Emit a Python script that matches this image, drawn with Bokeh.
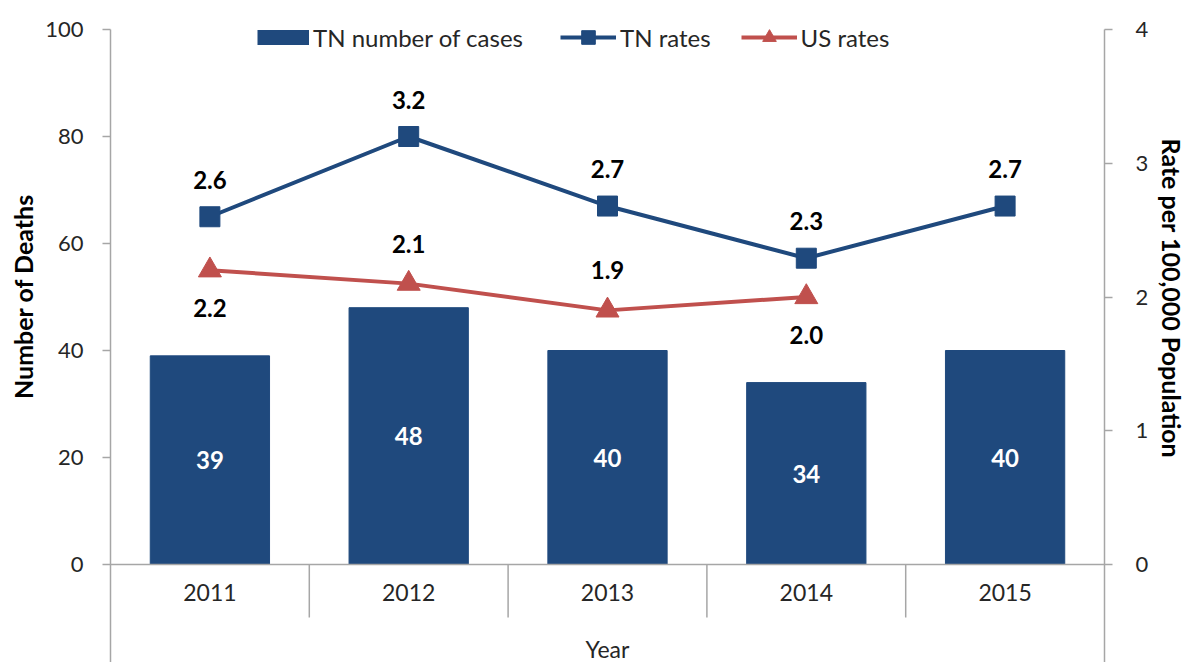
import numpy as np
from bokeh.plotting import figure
from bokeh.models import (Range1d, LinearAxis, FixedTicker, ColumnDataSource, LabelSet,
                          Label, Legend, LegendItem, Span, Title)
from bokeh.core.properties import value
from bokeh.embed import file_html
from bokeh.resources import INLINE

# ---------------- data ----------------
years = ["2011", "2012", "2013", "2014", "2015"]
tn_cases = [39, 48, 40, 34, 40]
tn_rates = [2.6, 3.2, 2.68, 2.29, 2.68]
us_years = ["2011", "2012", "2013", "2014"]
us_rates = [2.2, 2.1, 1.9, 2.0]
us_label_side = ["below", "above", "above", "below"]
left_ticks = [0, 20, 40, 60, 80, 100]
right_ticks = [0, 1, 2, 3, 4]

# ---------------- style / layout ----------------
BLUE = "#1F497D"
RED = "#C0504D"
AXIS = "#A6A6A6"
TEXT = "#262626"
FONT = "Lato"
W, H = 1189, 662
LEFT, RIGHT = 110, 82
MAX_PX, ZERO_PX = 29, 564            # screen rows of the top tick and of zero
PX_PER_UNIT = (ZERO_PX - MAX_PX) / float(left_ticks[-1])
Y_HI = left_ticks[-1] + MAX_PX / PX_PER_UNIT
Y_LO = -(H - ZERO_PX) / PX_PER_UNIT
RATE_SCALE = left_ticks[-1] / float(right_ticks[-1])
AXIS_MID_PX = (MAX_PX + ZERO_PX) / 2.0

idx = list(range(len(years)))
us_idx = [years.index(y) for y in us_years]
X_LO, X_HI = -0.5, len(years) - 0.5

p = figure(width=W, height=H, output_backend="svg", toolbar_location=None,
           x_range=Range1d(X_LO, X_HI), y_range=Range1d(Y_LO, Y_HI),
           x_axis_location=None, min_border_left=LEFT, min_border_right=RIGHT,
           min_border_top=0, min_border_bottom=0)
p.extra_y_ranges = {"rate": Range1d(Y_LO / RATE_SCALE, Y_HI / RATE_SCALE)}
p.xgrid.visible = False
p.ygrid.visible = False
p.outline_line_color = None
p.background_fill_color = "white"
p.border_fill_color = "white"

# axes
ya = p.yaxis[0]
ya.ticker = FixedTicker(ticks=left_ticks)
ya.bounds = (Y_LO, left_ticks[-1])
ra = LinearAxis(y_range_name="rate", ticker=FixedTicker(ticks=right_ticks),
                bounds=(Y_LO / RATE_SCALE, right_ticks[-1]))
p.add_layout(ra, "right")
for ax, st in ((ya, 19), (ra, 23)):
    ax.axis_line_color = AXIS
    ax.axis_line_width = 1.5
    ax.major_tick_line_color = AXIS
    ax.major_tick_line_width = 1.5
    ax.major_tick_out = 8
    ax.major_tick_in = 0
    ax.minor_tick_line_color = None
    ax.major_label_text_font = FONT
    ax.major_label_text_font_size = "22px"
    ax.major_label_text_color = TEXT
    ax.major_label_standoff = st

# axis titles, centred on the 0..max part of each axis
LEFT_TITLE_LEN, RIGHT_TITLE_LEN = 204, 317
p.add_layout(Title(text="Number of Deaths", align="left", vertical_align="top",
                   offset=H - (AXIS_MID_PX + LEFT_TITLE_LEN / 2.0),
                   standoff=6, text_font=FONT, text_font_style="bold",
                   text_font_size="25px", text_color="black"), "left")
p.add_layout(Title(text="Rate per 100,000 Population", align="left", vertical_align="top",
                   offset=AXIS_MID_PX - RIGHT_TITLE_LEN / 2.0,
                   standoff=6, text_font=FONT, text_font_style="bold",
                   text_font_size="25px", text_color="black"), "right")

# bars
bar_src = ColumnDataSource(dict(x=idx, top=tn_cases, mid=[v / 2.0 for v in tn_cases],
                                lab=[str(v) for v in tn_cases]))
bars = p.vbar(x="x", top="top", width=0.6, source=bar_src, fill_color=BLUE, line_color=BLUE)
p.add_layout(LabelSet(x="x", y="mid", text="lab", source=bar_src, text_align="center",
                      text_baseline="middle", text_color="white", text_font=value(FONT),
                      text_font_style="bold", text_font_size="24px"))

# category axis baseline and separators
p.add_layout(Span(location=0, dimension="width", line_color=AXIS, line_width=1.5))
seps = [i + 0.5 for i in idx[:-1]]
SEP_LEN = 53 / PX_PER_UNIT
p.segment(x0=seps, y0=[0] * len(seps), x1=seps, y1=[-SEP_LEN] * len(seps),
          line_color=AXIS, line_width=1.5)
year_src = ColumnDataSource(dict(x=idx, y=[0] * len(idx), t=years))
p.add_layout(LabelSet(x="x", y="y", text="t", source=year_src, y_offset=-28,
                      text_align="center", text_baseline="middle", text_color=TEXT,
                      text_font=value(FONT), text_font_size="23px"))
p.add_layout(Label(x=(X_LO + X_HI) / 2.0, y=0, y_offset=-84, text="Year",
                   text_align="center", text_baseline="middle", text_color=TEXT,
                   text_font=FONT, text_font_size="23px"))

# TN rates
tn_src = ColumnDataSource(dict(x=idx, y=tn_rates, lab=[f"{v:.1f}" for v in tn_rates]))
tn_line = p.line(x="x", y="y", source=tn_src, y_range_name="rate", line_color=BLUE, line_width=4)
tn_pts = p.scatter(x="x", y="y", source=tn_src, y_range_name="rate", marker="square",
                   size=20, fill_color=BLUE, line_color=BLUE)
p.add_layout(LabelSet(x="x", y="y", text="lab", source=tn_src, y_range_name="rate",
                      y_offset=37, text_align="center", text_baseline="middle",
                      text_color="black", text_font=value(FONT), text_font_style="bold",
                      text_font_size="24px"))

# US rates
us_src = ColumnDataSource(dict(x=us_idx, y=us_rates, lab=[f"{v:.1f}" for v in us_rates],
                               off=[-38 if s == "below" else 40 for s in us_label_side]))
us_line = p.line(x="x", y="y", source=us_src, y_range_name="rate", line_color=RED, line_width=4)
us_pts = p.scatter(x="x", y="y", source=us_src, y_range_name="rate", marker="triangle",
                   size=23, fill_color=RED, line_color=RED)
p.add_layout(LabelSet(x="x", y="y", text="lab", source=us_src, y_range_name="rate",
                      y_offset="off", text_align="center", text_baseline="middle",
                      text_color="black", text_font=value(FONT), text_font_style="bold",
                      text_font_size="24px"))

# legend swatch for the bars: a thick butt-capped line with no visible points
bar_swatch = p.line(x=[np.nan], y=[np.nan], line_color=BLUE, line_width=15)

def style_legend(lg):
    lg.orientation = "horizontal"
    lg.border_line_color = None
    lg.background_fill_alpha = 0
    lg.padding = 0
    lg.margin = 0
    lg.label_text_font = FONT
    lg.label_text_font_size = "24px"
    lg.label_text_color = TEXT
    lg.label_standoff = 4
    lg.spacing = 30
    lg.glyph_height = 34
    lg.label_height = 34

lg1 = Legend(items=[LegendItem(label="TN number of cases", renderers=[bar_swatch])],
             glyph_width=52)
style_legend(lg1)
lg1.location = (257 - LEFT, H - 54)
lg2 = Legend(items=[LegendItem(label="TN rates", renderers=[tn_line, tn_pts]),
                    LegendItem(label="US rates", renderers=[us_line, us_pts])],
             glyph_width=56)
style_legend(lg2)
lg2.location = (560 - LEFT, H - 54)
p.add_layout(lg1)
p.add_layout(lg2)

open("out.html", "w").write(file_html(p, INLINE))
